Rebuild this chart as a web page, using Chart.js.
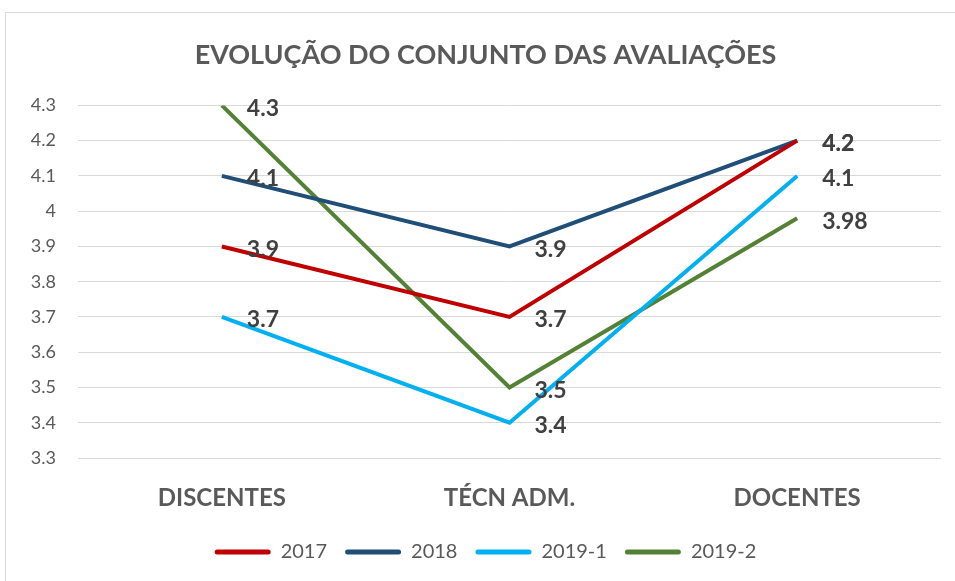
<!DOCTYPE html>
<html>
<head>
<meta charset="utf-8">
<script src="https://cdn.jsdelivr.net/npm/chart.js@4"></script>
<style>
html,body{margin:0;padding:0;background:#fff;}
#wrap{position:absolute;left:0;top:0;width:955px;height:581px;overflow:hidden;}
#frame{position:absolute;left:5px;top:12px;width:960px;height:590px;border:1px solid #d9d9d9;box-sizing:border-box;pointer-events:none;}
canvas{position:absolute;left:0;top:0;}
</style>
</head>
<body>
<div id="wrap"><canvas id="c" width="955" height="581"></canvas><div id="frame"></div></div>
<script>
const categories = ['DISCENTES', 'TÉCN ADM.', 'DOCENTES'];
const seriesNames = ['2017', '2018', '2019-1', '2019-2'];
const v2017 = [3.9, 3.7, 4.2];
const v2018 = [4.1, 3.9, 4.2];
const v2019_1 = [3.7, 3.4, 4.1];
const v2019_2 = [4.3, 3.5, 3.98];
const yTicks = [3.3, 3.4, 3.5, 3.6, 3.7, 3.8, 3.9, 4, 4.1, 4.2, 4.3];
const colors = ['#C00000', '#1F4E79', '#00B0F0', '#548235'];
const titleText = 'EVOLUÇÃO DO CONJUNTO DAS AVALIAÇÕES';

const FONT = 'Lato, "Open Sans", sans-serif';
const allSeries = [v2017, v2018, v2019_1, v2019_2];

const labelPlugin = {
  id: 'valueLabels',
  afterDatasetsDraw(chart) {
    const ctx = chart.ctx;
    ctx.save();
    ctx.font = 'bold 23px ' + FONT;
    ctx.fillStyle = '#404040';
    ctx.textAlign = 'left';
    ctx.textBaseline = 'middle';
    chart.data.datasets.forEach((ds, i) => {
      const meta = chart.getDatasetMeta(i);
      meta.data.forEach((pt, j) => {
        ctx.fillText(String(ds.data[j]), pt.x + 25, pt.y + 3);
      });
    });
    ctx.restore();
  }
};

new Chart(document.getElementById('c'), {
  type: 'line',
  data: {
    labels: categories,
    datasets: seriesNames.map((n, i) => ({
      label: n,
      data: allSeries[i],
      borderColor: colors[i],
      backgroundColor: colors[i],
      borderWidth: 4,
      pointRadius: 0,
      pointHoverRadius: 0,
      tension: 0,
      fill: false
    }))
  },
  options: {
    responsive: false,
    animation: false,
    events: [],
    layout: { padding: { left: 30, right: 14, top: 0, bottom: 9 } },
    plugins: {
      title: {
        display: true,
        text: titleText,
        color: '#595959',
        font: { family: FONT, size: 27, weight: 'bold', lineHeight: 1.2 },
        padding: { top: 39, bottom: 34 }
      },
      legend: {
        position: 'bottom',
        labels: {
          color: '#595959',
          font: { family: FONT, size: 20 },
          boxWidth: 56,
          boxHeight: 5,
          padding: 18,
          generateLabels(chart) {
            return chart.data.datasets.map((ds, i) => ({
              text: ds.label,
              fillStyle: ds.borderColor,
              strokeStyle: ds.borderColor,
              lineWidth: 0,
              borderRadius: 2.5,
              datasetIndex: i,
              fontColor: '#595959'
            }));
          },
          useBorderRadius: true
        }
      },
      tooltip: { enabled: false }
    },
    scales: {
      x: {
        offset: true,
        grid: { display: false, drawTicks: false, offset: true },
        border: { display: false },
        ticks: {
          color: '#595959',
          font: { family: FONT, size: 24, weight: 'bold' },
          padding: 26
        },
        afterFit(scale) { scale.height = 66; }
      },
      y: {
        min: 3.3,
        max: 4.3,
        afterBuildTicks(scale) { scale.ticks = yTicks.map(v => ({ value: v })); },
        grid: { color: '#d9d9d9', lineWidth: 1, drawTicks: false },
        border: { display: false },
        ticks: {
          color: '#595959',
          font: { family: FONT, size: 18 },
          padding: 22,
          callback: v => String(v)
        },
        afterFit(scale) { scale.width = 48; }
      }
    }
  },
  plugins: [labelPlugin]
});
</script>
</body>
</html>
